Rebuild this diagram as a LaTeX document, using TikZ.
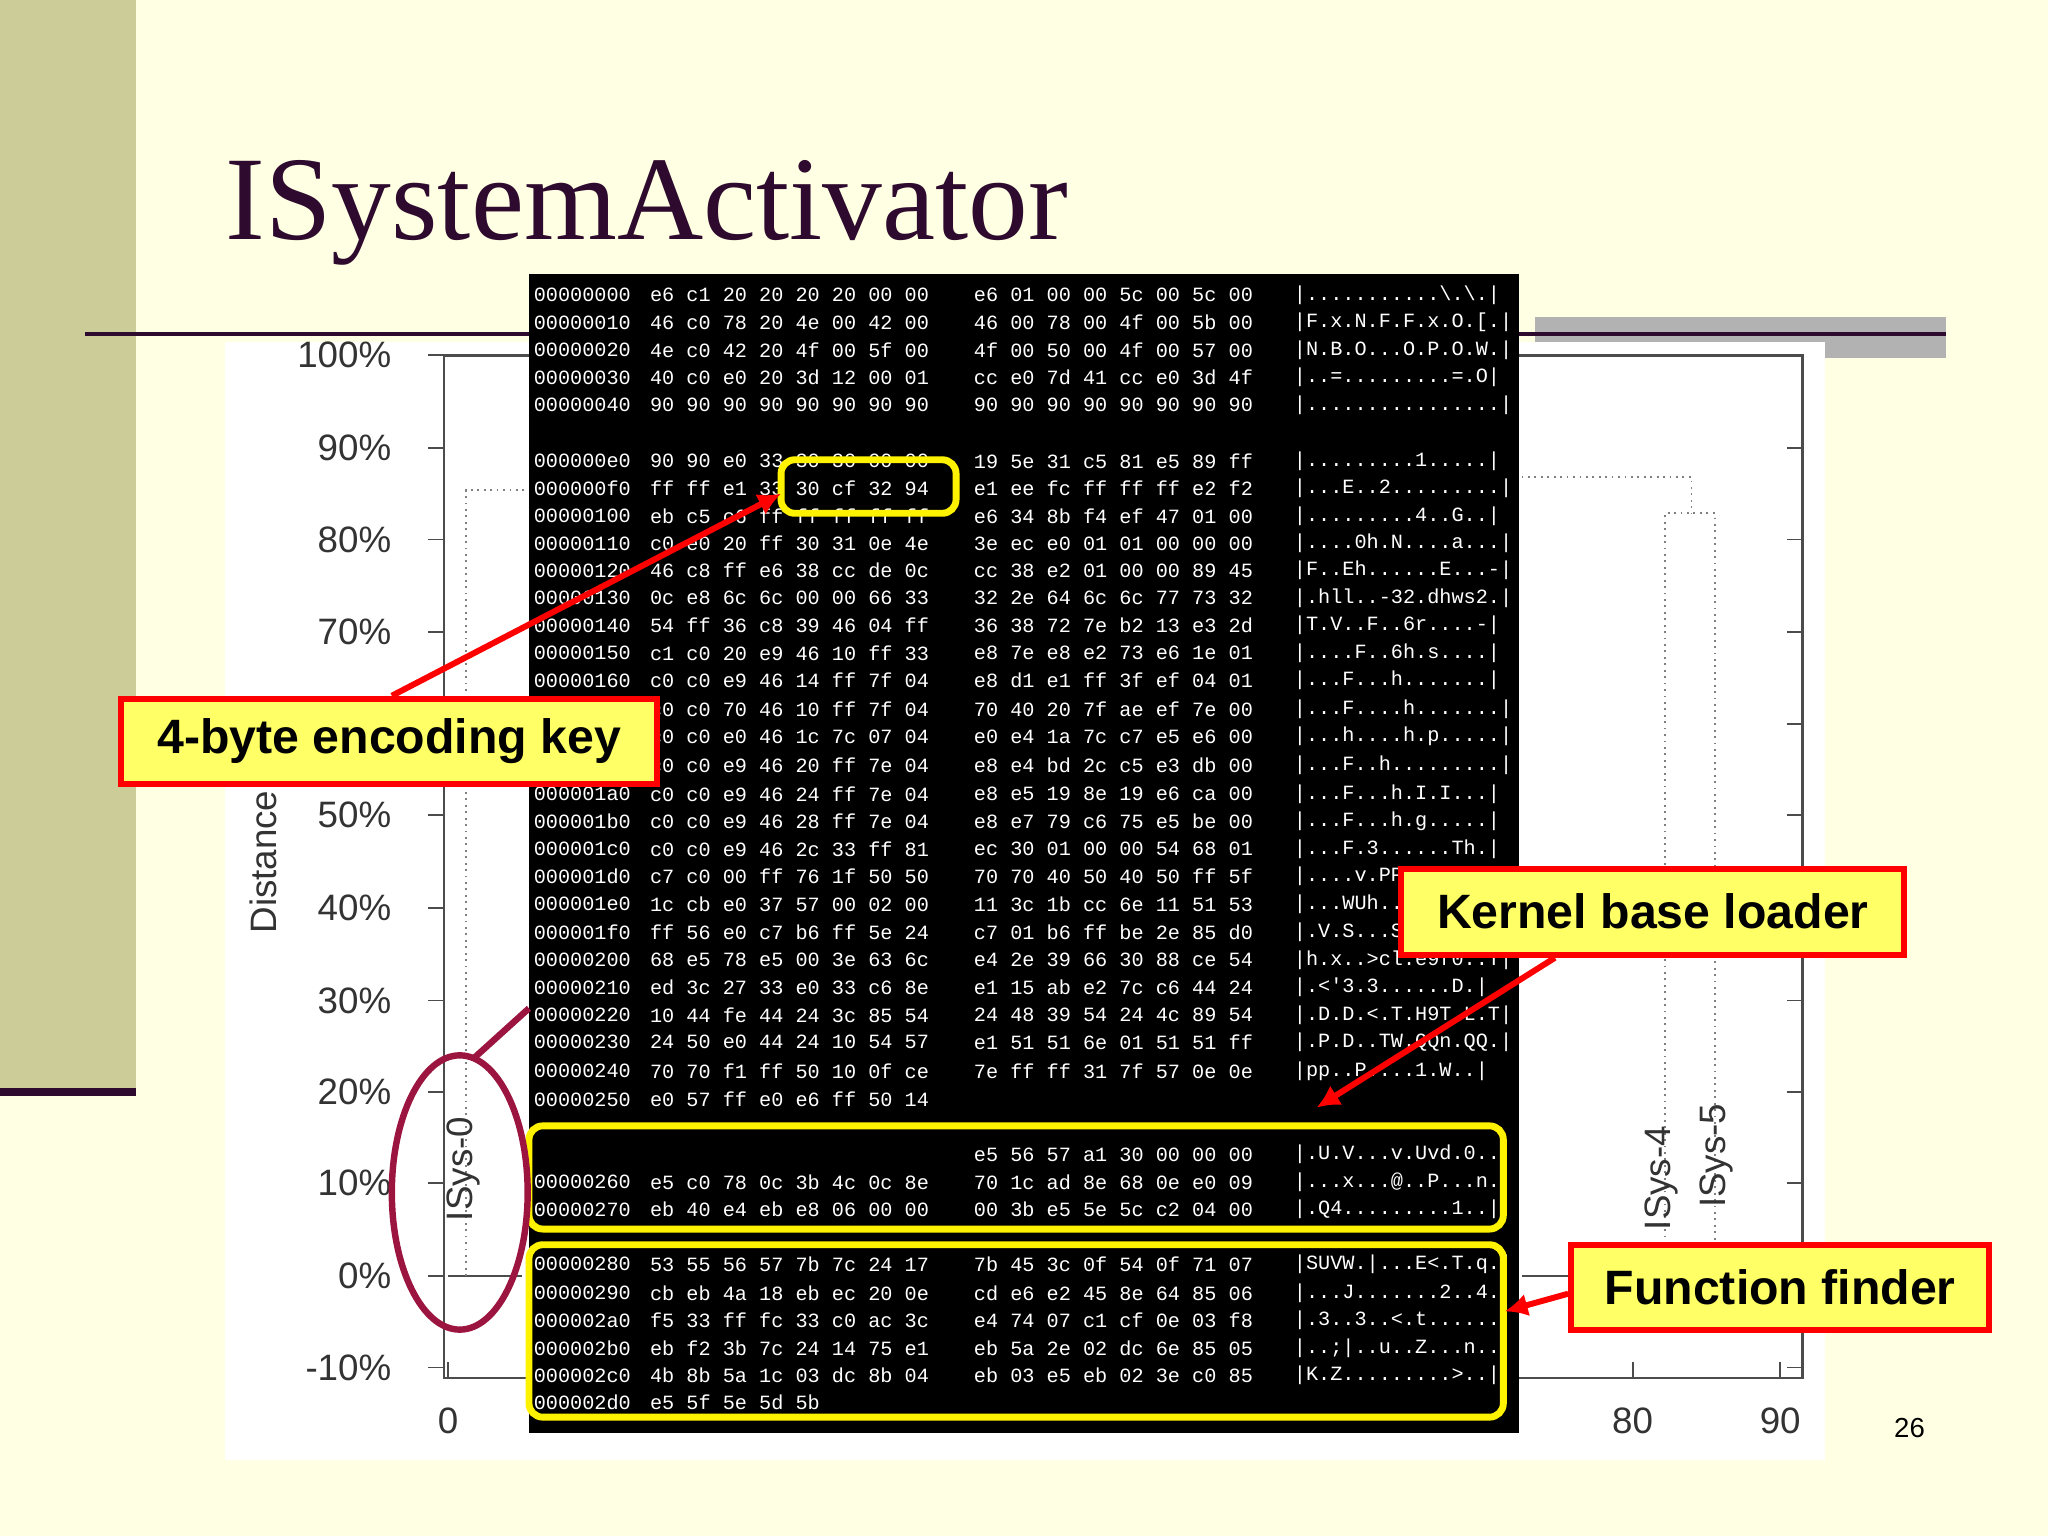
\documentclass[tikz,border=0pt]{standalone}
\usepackage{fontspec}
\setmainfont{Liberation Serif}
\setsansfont{Liberation Sans}
\setmonofont{Liberation Mono}
\definecolor{bgy}{HTML}{FFFFE3}
\definecolor{olive}{HTML}{CCCC99}
\definecolor{dpurp}{HTML}{2E0A2E}
\definecolor{maroon}{HTML}{9B1540}
\definecolor{cyel}{HTML}{FFFF66}
\tikzset{
 callout/.style={draw=red,line width=1.3pt,fill=cyel,font=\sffamily\bfseries\fontsize{10.5}{12}\selectfont,inner sep=0pt,anchor=center},
 ylab/.style={font=\sffamily\fontsize{8}{10}\selectfont,anchor=east,text=black!80},
 hex/.style={font=\ttfamily\fontsize{4.4}{5}\selectfont,text=white,anchor=west,inner sep=0pt},
 ybox/.style={draw=yellow,line width=1.5pt,rounded corners=3pt},
 dend/.style={densely dotted,gray,line width=0.4pt},
 redarrow/.style={red,line width=1.3pt,-{Latex[length=5pt,width=5pt]}}
}
\usetikzlibrary{arrows.meta}
\newcommand{\hexrow}[5]{%
 \node[hex] at (408,#1) {#2};
 \node[hex] at (497,#1) {#3};
 \node[hex] at (745,#1) {#4};
 \node[hex] at (990,#1) {#5};}
\begin{document}
\begin{tikzpicture}[x=0.01cm,y=-0.01cm]
\useasboundingbox (0,0) rectangle (1568,1176);
\fill[bgy] (0,0) rectangle (1568,1176);
\fill[olive] (0,0) rectangle (104,833);
\fill[dpurp] (0,833) rectangle (104,839);
\node[anchor=base west,text=dpurp,font=\fontsize{26}{30}\selectfont,inner sep=0pt] (title) at (172,183) {ISystemActivator};
\fill[gray!60] (1175,243) rectangle (1490,262);
\fill[gray!60] (1397,262) rectangle (1490,274);
\draw[dpurp,line width=0.9pt] (65,256) -- (1490,256);
% chart
\fill[white] (172,262) rectangle (1397,1118);
\draw[black!70,line width=0.6pt] (340,272) rectangle (1380,1055);
\foreach \v/\y in {100/272,90/343,80/413,70/484,60/554,50/624,40/695,30/766,20/836,10/906,0/977,-10/1047}{
 \draw[black!70] (328,\y) -- (340,\y);
 \draw[black!70] (1368,\y) -- (1380,\y);
 \node[ylab] at (312,\y) {\v\%};}
\foreach \v/\x in {0/343,80/1250,90/1363}{
 \draw[black!70] (\x,1055) -- (\x,1043);
 \node[font=\sffamily\fontsize{8}{10}\selectfont,text=black!80] at (\x,1088) {\v};}
\node[rotate=90,font=\sffamily\fontsize{8}{10}\selectfont,text=black!80] (dist) at (202,660) {Distance};
\draw[black!70] (343,977) -- (400,977);
\draw[black!70] (1165,977) -- (1205,977);
\draw[dend] (357,977) -- (357,375) -- (405,375);
\draw[dend] (1165,365) -- (1295,365) -- (1295,393);
\draw[dend] (1275,977) -- (1275,393) -- (1313,393) -- (1313,977);
\node[rotate=90,font=\sffamily\fontsize{8}{10}\selectfont,text=black!80] (s0) at (355,895) {ISys-0};
\node[rotate=90,font=\sffamily\fontsize{8}{10}\selectfont,text=black!80] (s4) at (1272,902) {ISys-4};
\node[rotate=90,font=\sffamily\fontsize{8}{10}\selectfont,text=black!80] (s5) at (1314,885) {ISys-5};
% hex
\fill[black] (405,210) rectangle (1163,1097);
\hexrow{226}{00000000}{e6 c1 20 20 20 20 00 00}{e6 01 00 00 5c 00 5c 00}{|...........\textbackslash.\textbackslash.|}
\hexrow{247}{00000010}{46 c0 78 20 4e 00 42 00}{46 00 78 00 4f 00 5b 00}{|F.x.N.F.F.x.O.[.|}
\hexrow{268}{00000020}{4e c0 42 20 4f 00 5f 00}{4f 00 50 00 4f 00 57 00}{|N.B.O...O.P.O.W.|}
\hexrow{289}{00000030}{40 c0 e0 20 3d 12 00 01}{cc e0 7d 41 cc e0 3d 4f}{|..=.........=.O|}
\hexrow{310}{00000040}{90 90 90 90 90 90 90 90}{90 90 90 90 90 90 90 90}{|................|}
\hexrow{353}{000000e0}{90 90 e0 33 30 30 00 00}{19 5e 31 c5 81 e5 89 ff}{|.........1.....|}
\hexrow{374}{000000f0}{ff ff e1 33 30 cf 32 94}{e1 ee fc ff ff ff e2 f2}{|...E..2.........|}
\hexrow{395}{00000100}{eb c5 c6 ff ff ff ff ff}{e6 34 8b f4 ef 47 01 00}{|.........4..G..|}
\hexrow{416}{00000110}{c0 e0 20 ff 30 31 0e 4e}{3e ec e0 01 01 00 00 00}{|....0h.N....a...|}
\hexrow{437}{00000120}{46 c8 ff e6 38 cc de 0c}{cc 38 e2 01 00 00 89 45}{|F..Eh......E...-|}
\hexrow{458}{00000130}{0c e8 6c 6c 00 00 66 33}{32 2e 64 6c 6c 77 73 32}{|.hll..-32.dhws2.|}
\hexrow{479}{00000140}{54 ff 36 c8 39 46 04 ff}{36 38 72 7e b2 13 e3 2d}{|T.V..F..6r....-|}
\hexrow{500}{00000150}{c1 c0 20 e9 46 10 ff 33}{e8 7e e8 e2 73 e6 1e 01}{|....F..6h.s....|}
\hexrow{521}{00000160}{c0 c0 e9 46 14 ff 7f 04}{e8 d1 e1 ff 3f ef 04 01}{|...F...h.......|}
\hexrow{543}{00000170}{c0 c0 70 46 10 ff 7f 04}{70 40 20 7f ae ef 7e 00}{|...F....h.......|}
\hexrow{564}{00000180}{c0 c0 e0 46 1c 7c 07 04}{e0 e4 1a 7c c7 e5 e6 00}{|...h....h.p.....|}
\hexrow{586}{00000190}{c0 c0 e9 46 20 ff 7e 04}{e8 e4 bd 2c c5 e3 db 00}{|...F..h.........|}
\hexrow{608}{000001a0}{c0 c0 e9 46 24 ff 7e 04}{e8 e5 19 8e 19 e6 ca 00}{|...F...h.I.I...|}
\hexrow{629}{000001b0}{c0 c0 e9 46 28 ff 7e 04}{e8 e7 79 c6 75 e5 be 00}{|...F...h.g.....|}
\hexrow{650}{000001c0}{c0 c0 e9 46 2c 33 ff 81}{ec 30 01 00 00 54 68 01}{|...F.3......Th.|}
\hexrow{671}{000001d0}{c7 c0 00 ff 76 1f 50 50}{70 70 40 50 40 50 ff 5f}{|....v.PP...P.P.|}
\hexrow{692}{000001e0}{1c cb e0 37 57 00 02 00}{11 3c 1b cc 6e 11 51 53}{|...WUh....<..QS|}
\hexrow{714}{000001f0}{ff 56 e0 c7 b6 ff 5e 24}{c7 01 b6 ff be 2e 85 d0}{|.V.S...S........|}
\hexrow{735}{00000200}{68 e5 78 e5 00 3e 63 6c}{e4 2e 39 66 30 88 ce 54}{|h.x..>cl.e9f0..T|}
\hexrow{756}{00000210}{ed 3c 27 33 e0 33 c6 8e}{e1 15 ab e2 7c c6 44 24}{|.<'3.3......D.|}
\hexrow{777}{00000220}{10 44 fe 44 24 3c 85 54}{24 48 39 54 24 4c 89 54}{|.D.D.<.T.H9T.L.T|}
\hexrow{798}{00000230}{24 50 e0 44 24 10 54 57}{e1 51 51 6e 01 51 51 ff}{|.P.D..TW.QQn.QQ.|}
\hexrow{820}{00000240}{70 70 f1 ff 50 10 0f ce}{7e ff ff 31 7f 57 0e 0e}{|pp..P....1.W..|}
\hexrow{842}{00000250}{e0 57 ff e0 e6 ff 50 14}{}{}
\hexrow{884}{}{}{e5 56 57 a1 30 00 00 00}{|.U.V...v.Uvd.0..|}
\hexrow{905}{00000260}{e5 c0 78 0c 3b 4c 0c 8e}{70 1c ad 8e 68 0e e0 09}{|...x...@..P...n.|}
\hexrow{926}{00000270}{eb 40 e4 eb e8 06 00 00}{00 3b e5 5e 5c c2 04 00}{|.Q4.........1..|}
\hexrow{968}{00000280}{53 55 56 57 7b 7c 24 17}{7b 45 3c 0f 54 0f 71 07}{|SUVW.|...E<.T.q.|}
\hexrow{990}{00000290}{cb eb 4a 18 eb ec 20 0e}{cd e6 e2 45 8e 64 85 06}{|...J.......2..4.|}
\hexrow{1011}{000002a0}{f5 33 ff fc 33 c0 ac 3c}{e4 74 07 c1 cf 0e 03 f8}{|.3..3..<.t......|}
\hexrow{1032}{000002b0}{eb f2 3b 7c 24 14 75 e1}{eb 5a 2e 02 dc 6e 85 05}{|..;|..u..Z...n..|}
\hexrow{1053}{000002c0}{4b 8b 5a 1c 03 dc 8b 04}{eb 03 e5 eb 02 3e c0 85}{|K.Z.........>..|}
\hexrow{1074}{000002d0}{e5 5f 5e 5d 5b}{}{}
% yellow highlights
\draw[ybox] (598,352) rectangle (732,393);
\draw[ybox] (405,862) rectangle (1151,941);
\draw[ybox] (405,953) rectangle (1151,1085);
% maroon ellipse
\draw[maroon,line width=1.4pt] (352,913) ellipse [x radius=52,y radius=105];
\coordinate (ea) at (363,810);
\coordinate (eb) at (405,772);
\draw[maroon,line width=1.4pt] (ea) -- (eb);
% callouts
\node[callout,minimum width=4.1cm,minimum height=0.65cm] (k1) at (298,567.5) {4-byte encoding key};
\node[callout,minimum width=3.85cm,minimum height=0.66cm] (k2) at (1265.5,698) {Kernel base loader};
\node[callout,minimum width=3.2cm,minimum height=0.65cm] (k3) at (1363,985.5) {Function finder};
\coordinate (t1) at (598,378);
\coordinate (t2) at (1008,848);
\coordinate (t3) at (1152,1004);
\draw[redarrow] (k1.north) ++(2,0) -- (t1);
\draw[redarrow] (k2.south) ++(-75,0) -- (t2);
\draw[redarrow] (k3.west) ++(0,5) -- (t3);
\node[font=\sffamily\fontsize{6}{7}\selectfont] (pg) at (1462,1093) {26};
\end{tikzpicture}
\end{document}
